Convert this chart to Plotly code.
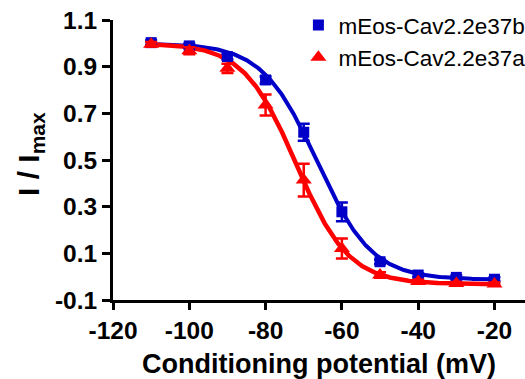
import numpy as np
import plotly.graph_objects as go

# Conditioning potentials (mV)
voltages = [-110, -100, -90, -80, -70, -60, -50, -40, -30, -20]

# mEos-Cav2.2e37b (blue squares)
e37b_mean = [1.003, 0.989, 0.943, 0.843, 0.619, 0.278, 0.064, 0.007, -0.003, -0.011]
e37b_sem = [0.010, 0.010, 0.012, 0.015, 0.036, 0.040, 0.010, 0.008, 0.008, 0.008]

# mEos-Cav2.2e37a (red triangles)
e37a_mean = [0.996, 0.968, 0.893, 0.736, 0.414, 0.121, 0.007, -0.021, -0.029, -0.031]
e37a_sem = [0.010, 0.015, 0.020, 0.045, 0.070, 0.043, 0.012, 0.008, 0.006, 0.006]

# Boltzmann fit parameters: top, bottom, V1/2, k
fit_e37b = dict(top=1.00, bottom=-0.013, vhalf=-66.5, k=7.2)
fit_e37a = dict(top=1.00, bottom=-0.032, vhalf=-72.0, k=6.9)

x_ticks = [-120, -100, -80, -60, -40, -20]
x_ticktext = ["-120", "-100", "-80", "-60", "-40", "-20"]
y_ticks = [-0.1, 0.1, 0.3, 0.5, 0.7, 0.9, 1.1]
y_ticktext = ["-0.1", "0.1", "0.3", "0.5", "0.7", "0.9", "1.1"]

BLUE = "#0000C8"
RED = "#FF0000"
FONT = "Liberation Sans, Arial, sans-serif"


def boltzmann(v, p):
    return p["bottom"] + (p["top"] - p["bottom"]) / (1 + np.exp((v - p["vhalf"]) / p["k"]))


v_fit = np.linspace(min(voltages), max(voltages), 300)

fig = go.Figure()
fig.add_trace(go.Scatter(x=v_fit, y=boltzmann(v_fit, fit_e37b), mode="lines",
                         line=dict(color=BLUE, width=4), showlegend=False, hoverinfo="skip"))
fig.add_trace(go.Scatter(x=v_fit, y=boltzmann(v_fit, fit_e37a), mode="lines",
                         line=dict(color=RED, width=4.5), showlegend=False, hoverinfo="skip"))

fig.add_trace(go.Scatter(
    x=voltages, y=e37b_mean, mode="markers", name="mEos-Cav2.2e37b",
    marker=dict(symbol="square", size=11, color=BLUE),
    error_y=dict(type="data", array=e37b_sem, color=BLUE, thickness=2.5, width=6),
    legendgroup="b"))
fig.add_trace(go.Scatter(
    x=voltages, y=e37a_mean, mode="markers", name="mEos-Cav2.2e37a",
    marker=dict(symbol="triangle-up", size=14, color=RED),
    error_y=dict(type="data", array=e37a_sem, color=RED, thickness=2.5, width=6),
    legendgroup="a"))

fig.add_annotation(
    text="<b>I / I<sub>max</sub></b>", textangle=-90,
    xref="paper", yref="paper", x=-0.2, y=0.52, xanchor="center", yanchor="middle",
    showarrow=False, font=dict(size=30, family=FONT, color="black"))

fig.update_layout(
    width=525, height=379,
    margin=dict(l=113, r=0, t=20, b=79, autoexpand=False),
    plot_bgcolor="white", paper_bgcolor="white",
    font=dict(family=FONT, color="black"),
    legend=dict(x=0.45, y=1.058, xanchor="left", yanchor="top",
                font=dict(size=22.5, family=FONT, color="black"),
                bgcolor="rgba(0,0,0,0)", traceorder="grouped", tracegroupgap=0,
                itemwidth=30),
    xaxis=dict(range=[-120, -12], tickvals=x_ticks, ticktext=x_ticktext,
               showline=True, linewidth=3,
               linecolor="black", ticks="outside", ticklen=7, tickwidth=3,
               tickcolor="black", showgrid=False, zeroline=False,
               tickfont=dict(size=24.5, family=FONT, weight="bold"),
               title=dict(text="<b>Conditioning potential (mV)</b>",
                          font=dict(size=27, family=FONT), standoff=14)),
    yaxis=dict(range=[-0.1, 1.1], tickvals=y_ticks, ticktext=y_ticktext,
               showline=True, linewidth=3, linecolor="black", ticks="outside",
               ticklen=8, tickwidth=3, tickcolor="black", showgrid=False,
               zeroline=False,
               tickfont=dict(size=24.5, family=FONT, weight="bold")),
)

fig.write_html("out.html")
